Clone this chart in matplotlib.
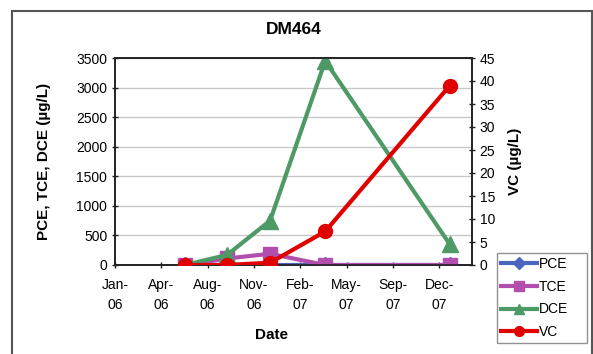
import matplotlib.pyplot as plt
import matplotlib.dates as mdates
from matplotlib.patches import Rectangle
from matplotlib.lines import Line2D
import numpy as np

plt.rcParams['font.family'] = ['Liberation Sans', 'DejaVu Sans']

# sampling dates and concentrations
dates = np.array(['2006-06-14', '2006-09-13', '2006-12-15', '2007-04-13', '2008-01-07'],
                 dtype='datetime64[D]')
pce = [0, 0, 0, 0, 0]
tce = [0, 110, 190, 0, 0]
dce = [0, 170, 750, 3450, 350]
vc = [0, 0, 0.5, 7.3, 39]

# axis ticks: Excel date axis, 100 day steps from 14 Jan 2006
tick_start = np.datetime64('2006-01-14')
tick_step = 100
n_ticks = 8
x_end = tick_start + np.timedelta64(771, 'D')

colors = {'PCE': '#4A66BE', 'TCE': '#B24FAE', 'DCE': '#4E9A66', 'VC': '#E00000'}
markers = {'PCE': 'D', 'TCE': 's', 'DCE': '^', 'VC': 'o'}
lw = 3.0

fig = plt.figure(figsize=(5.93, 3.54), dpi=100)
ax = fig.add_axes([115 / 593, 1 - 265 / 354, 357 / 593, 207 / 354])
ax2 = ax.twinx()

ax.plot(dates, pce, color=colors['PCE'], marker='D', ms=8, lw=lw, zorder=3)
ax.plot(dates, tce, color=colors['TCE'], marker='s', ms=10, lw=lw, zorder=3)
ax.plot(dates, dce, color=colors['DCE'], marker='^', ms=11, lw=lw, zorder=3)
ax2.plot(dates, vc, color=colors['VC'], marker='o', ms=10, lw=lw, zorder=3)

ticks = [tick_start + np.timedelta64(i * tick_step, 'D') for i in range(n_ticks)]
ax.set_xlim(tick_start, x_end)
ax.set_xticks(ticks)
ax.xaxis.set_major_formatter(mdates.DateFormatter('%b-\n%y'))

ax.set_ylim(0, 3500)
ax.set_yticks(np.arange(0, 3501, 500))
ax2.set_ylim(0, 45)
ax2.set_yticks(np.arange(0, 46, 5))

ax.grid(axis='y', color='#c8c8c8', lw=1)
ax.set_axisbelow(True)

for a in (ax, ax2):
    for s in a.spines.values():
        s.set_color('#222222')
        s.set_linewidth(1.2)
    a.tick_params(direction='inout', length=5, width=1, labelsize=10, color='#222222', pad=3)
ax.tick_params(axis='x', pad=7)
for t in ax.get_xticklabels():
    t.set_linespacing(1.5)

ax.set_title('DM464', fontsize=12.5, fontweight='bold', pad=17)
ax.set_ylabel('PCE, TCE, DCE (µg/L)', fontsize=11, fontweight='bold')
ax.yaxis.set_label_coords(-0.18, 0.5)
ax2.set_ylabel('VC (µg/L)', fontsize=11, fontweight='bold')
ax2.yaxis.set_label_coords(1.10, 0.5)
ax.set_xlabel('Date', fontsize=11, fontweight='bold')
ax.xaxis.set_label_coords(0.437, -0.305)

handles = [Line2D([], [], color=colors[k], marker=markers[k], lw=lw, ms=7 if k != 'PCE' else 6)
           for k in ['PCE', 'TCE', 'DCE', 'VC']]
leg = fig.legend(handles, ['PCE', 'TCE', 'DCE', 'VC'], loc='upper left',
                 bbox_to_anchor=(497 / 593, 1 - 253 / 354, 90 / 593, 0), mode='expand',
                 fontsize=10, frameon=True, fancybox=False, edgecolor='#777777',
                 handlelength=2.6, handletextpad=0.1, borderpad=0.3,
                 labelspacing=0.62, borderaxespad=0)
leg.get_frame().set_linewidth(1)

fig.patches.append(Rectangle((12 / 593, -0.05), 580 / 593, 1.05 - 11 / 354,
                             transform=fig.transFigure, fill=False,
                             edgecolor='#555555', lw=1.5))

fig.savefig('out.png', dpi=100)
